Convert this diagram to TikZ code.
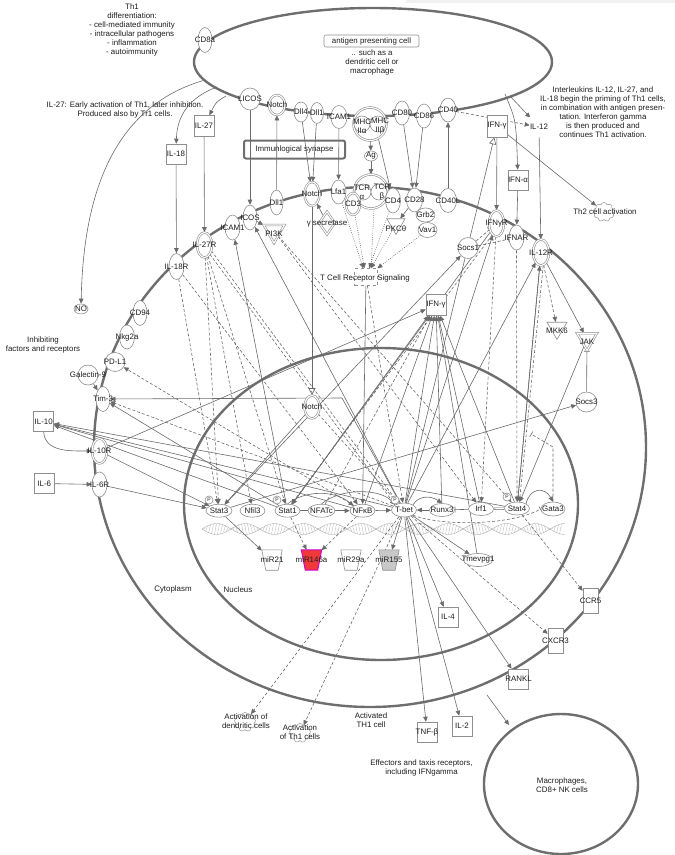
\documentclass[tikz,border=0pt]{standalone}
\usepackage{fontspec}
\setmainfont{Liberation Sans}
\usetikzlibrary{shapes.geometric,shapes.symbols,arrows.meta}
\pgfdeclarelayer{bg}
\pgfsetlayers{bg,main}
\definecolor{ncol}{HTML}{8E8E8E}
\definecolor{ecol}{HTML}{6A6A6A}
\definecolor{mcol}{HTML}{6E6E6E}
\definecolor{mirred}{HTML}{F03A3A}
\definecolor{mirmag}{HTML}{D000D0}
\definecolor{mirgray}{HTML}{C8C8C8}
\definecolor{tcol}{HTML}{1E1E1E}
\newcommand\molnode[4]{\node[#1] (#2) at (#3) {}; \node[lbl] (#2-t) at (#2) {#4};}
\newcommand\mirnode[6]{\node[minimum width=20pt, minimum height=20pt, inner sep=0pt] (#1) at (#2) {};
 \filldraw[fill=#3, draw=#4, line width=#5] (#1.north west) -- (#1.north east) -- ([xshift=-4pt]#1.south east) -- ([xshift=4pt]#1.south west) -- cycle;
 \node[lbl] (#1-t) at (#1) {#6};}
\begin{document}
\begin{tikzpicture}[x=1pt,y=-1pt,
 lbl/.style={font=\fontsize{7.9}{8.6}\selectfont, inner sep=0pt, text=tcol, align=center},
 txt/.style={font=\fontsize{7.9}{9}\selectfont, inner sep=0pt, text=tcol, align=center},
 mol/.style={draw=ncol, fill=white, line width=0.6pt, inner sep=0pt},
 ell/.style={mol, ellipse, minimum width=15pt, minimum height=24pt},
 hel/.style={mol, ellipse, minimum width=25pt, minimum height=13pt},
 del/.style={ell, double=white, double distance=1.1pt},
 box/.style={mol, rectangle, minimum width=20pt, minimum height=21pt},
 vbox/.style={mol, rectangle, minimum width=15pt, minimum height=25pt},
 kin/.style={mol, regular polygon, regular polygon sides=3, shape border rotate=180, minimum size=23pt},
 dkin/.style={kin, double=white, double distance=1.1pt},
 pep/.style={mol, diamond, minimum width=16pt, minimum height=23pt, double=white, double distance=1.1pt},
 func/.style={cloud, cloud puffs=9, draw=ncol, line width=0.5pt, minimum width=21pt, minimum height=19pt, inner sep=0pt},
 cplx/.style={mol, circle, minimum size=33pt, double=white, double distance=1.1pt},
 sub/.style={mol, circle, minimum size=16pt},
 pmark/.style={mol, circle, minimum size=8pt, font=\fontsize{5}{5}\selectfont, text=tcol},
 mem/.style={draw=mcol, line width=2.4pt},
 ar/.style={draw=ecol, line width=0.6pt, -{Triangle[length=5pt,width=4.5pt]}},
 da/.style={ar, dash pattern=on 3pt off 2pt},
 dt/.style={ar, dash pattern=on 0.8pt off 1.4pt},
 inh/.style={draw=ecol, line width=0.6pt, -{Bar[width=6pt]}},
 dinh/.style={inh, dash pattern=on 3pt off 2pt},
 trl/.style={draw=ecol, line width=0.6pt, -{Triangle[open,length=7pt,width=7pt]}},
 ln/.style={draw=ecol, line width=0.6pt},
 hx/.style={draw=ncol!70, line width=0.4pt}
]
\useasboundingbox (0,0) rectangle (675,855);
\fill[gray!12] (406,0) rectangle (675,3);

% ---------- free texts ----------
\node[txt] (tTh1) at (132,29.5) {Th1\\differentiation:\\- cell-mediated immunity\\- intracellular pathogens\\- inflammation\\- autoimmunity};
\node[txt] (tIL27) at (125,109.5) {IL-27: Early activation of Th1, later inhibition.\\Produced also by Tr1 cells.};
\node[txt] (tInt) at (603,112.5) {Interleukins IL-12, IL-27, and\\IL-18 begin the priming of Th1 cells,\\in combination with antigen presen-\\tation. Interferon gamma\\is then produced and\\continues Th1 activation.};
\node[txt] (tInh) at (43,344.5) {Inhibiting\\factors and receptors};
\node[txt] (tCyt) at (173,589) {Cytoplasm};
\node[txt] (tNuc) at (238,590) {Nucleus};
\node[txt] (tAct) at (371,720.5) {Activated\\TH1 cell};
\node[txt] (tEff) at (421.5,767.5) {Effectors and taxis receptors,\\including IFNgamma};
\node[txt] (tSuch) at (372,62) {.. such as a\\dendritic cell or\\macrophage};
\node[draw=ncol, line width=0.6pt, rounded corners=2pt, minimum width=95pt, minimum height=12pt, inner sep=0pt, font=\fontsize{7.9}{9}\selectfont, text=tcol] (apcl) at (371.5,41) {antigen presenting cell};
\node[draw=mcol, line width=2pt, rounded corners=2pt, minimum width=101pt, minimum height=18pt, inner sep=0pt, font=\fontsize{7.9}{9}\selectfont, text=tcol] (isyn) at (294.5,149.5) {Immunlogical synapse};

% macrophage cell
\draw[mem] (561,784) ellipse [x radius=77pt, y radius=70pt];
\node[txt] (tMac) at (562,785.5) {Macrophages,\\CD8+ NK cells};

% ---------- APC membrane ----------
\molnode{ell, minimum width=14pt, minimum height=25pt}{cd8a}{205,40}{CD8a}
\molnode{ell, minimum width=20pt, minimum height=22pt}{licos}{250,99}{LICOS}
\molnode{del, minimum width=16pt, minimum height=20pt}{notchA}{277,105}{Notch}
\molnode{ell, minimum width=14pt, minimum height=20pt}{dll4}{301,112}{Dll4}
\molnode{ell, minimum width=13pt, minimum height=21pt}{dllA}{317,113}{Dll1}
\molnode{ell, minimum width=16pt, minimum height=23pt}{icamA}{339,117}{ICAM1}
\node[cplx] (mhc) at (370,124) {};
\node[sub] (mhca) at (362,124) {};
\node[sub] (mhcb) at (378,124) {};
\node[lbl] (mhcat) at (362,126) {MHC\\IIα};
\node[lbl] (mhcbt) at (380,126) {MHC\\IIβ};
\molnode{ell, minimum width=13pt, minimum height=10pt}{ag}{371,156}{Ag}
\molnode{ell}{cd80}{402,113}{CD80}
\molnode{ell}{cd86}{424,116}{CD86}
\molnode{ell, minimum width=16pt}{cd40}{448,110}{CD40}

% ---------- extracellular ----------
\molnode{box}{il27}{204,126}{IL-27}
\molnode{box, minimum height=20pt}{il18}{176,154}{IL-18}
\molnode{box, minimum height=22pt}{ifngA}{497,126}{IFN-γ}
\molnode{box, double=white, double distance=1.4pt, minimum width=18pt, minimum height=18pt}{il12}{539,127}{IL-12}
\molnode{box, minimum height=20pt}{ifna}{518,180}{IFN-α}
\molnode{ell, minimum width=14pt, minimum height=10pt}{no}{81,309}{NO}
\node[func] (th2) at (604,212) {};
\node[lbl] (th2t) at (605,212) {Th2 cell activation};

% ---------- T cell membrane ----------
\molnode{ell, minimum height=26pt}{il18r}{176.5,266.5}{IL-18R}
\molnode{del, minimum height=25pt}{il27r}{204.5,245}{IL-27R}
\molnode{ell, minimum height=25pt}{icamT}{232.5,227.5}{ICAM1}
\node[dkin, minimum size=24pt] (pi3k) at (274,231) {};
\node[lbl] (pi3kt) at (274,234) {PI3K};
\molnode{ell, minimum width=14pt, minimum height=25pt}{icos}{250,217.5}{ICOS}
\molnode{ell, minimum width=13pt, minimum height=25pt}{dllT}{276.5,202.5}{Dll1}
\molnode{del, minimum width=15pt, minimum height=24pt}{notchT}{312,194}{Notch}
\node[pep] (gsec) at (327,223) {};
\node[lbl] (gsect) at (327,224) {γ secretase};
\molnode{ell}{lfa1}{338.5,192}{Lfa1}
\node[cplx, minimum size=34pt] (tcr) at (371,191.5) {};
\node[sub] (tcra) at (363,192) {};
\node[sub] (tcrb) at (379,192) {};
\node[lbl] (tcrat) at (362,192) {TCR\\α};
\node[lbl] (tcrbt) at (382,192) {TCR\\β};
\molnode{del, minimum width=14pt, minimum height=22pt}{cd3}{353,204}{CD3}
\molnode{ell, minimum width=15pt, minimum height=25pt}{cd4}{393,200.5}{CD4}
\molnode{ell, minimum width=16pt, minimum height=24pt}{cd28}{414.5,200}{CD28}
\node[kin, minimum size=21pt] (pkct) at (396,224) {};
\node[lbl] (pkctt) at (396,229) {PKCθ};
\molnode{ell, minimum width=19pt, minimum height=14pt}{grb2}{425.5,215}{Grb2}
\molnode{ell, minimum width=19pt, minimum height=15pt}{vav1}{427.5,230}{Vav1}
\molnode{ell, minimum width=17pt, minimum height=24pt}{cd40l}{448,200.5}{CD40L}
\molnode{ell, minimum width=20pt, minimum height=21pt}{socs1}{468,248}{Socs1}
\molnode{del, minimum width=15pt, minimum height=26pt}{ifngr}{496.5,223.5}{IFNγR}
\molnode{ell, minimum width=15pt, minimum height=25pt}{ifnar}{516.5,237.5}{IFNAR}
\molnode{del, minimum width=16pt, minimum height=26pt}{il12r}{541,252.5}{IL-12R}
\node[draw=ncol, dashed, line width=0.5pt, minimum width=23pt, minimum height=17pt, inner sep=0pt] (tcrs) at (366,277) {};
\node[lbl] (tcrst) at (365,278) {T Cell Receptor Signaling};
\molnode{box, minimum height=21pt}{ifngT}{436,305}{IFN-γ}

% left membrane
\molnode{ell, minimum width=14pt, minimum height=25pt}{cd94}{140,313}{CD94}
\molnode{ell, minimum width=15pt, minimum height=24pt}{nkg2a}{127,337}{Nkg2a}
\molnode{ell, minimum width=20pt, minimum height=19pt}{pdl1}{115,362}{PD-L1}
\molnode{ell, minimum width=20pt, minimum height=20pt}{gal9}{88,375}{Galectin-9}
\molnode{ell, minimum width=14pt, minimum height=25pt}{tim3}{103,399}{Tim-3}
\molnode{box, minimum height=20pt}{il10}{43.7,421.7}{IL-10}
\molnode{del, minimum width=15pt, minimum height=25pt}{il10r}{99.5,451}{IL-10R}
\molnode{box, minimum height=20pt}{il6}{44.3,483.5}{IL-6}
\molnode{ell, minimum width=15pt, minimum height=25pt}{il6r}{99.5,484.5}{IL-6R}

% right cytoplasm
\node[kin, minimum size=23pt] (mkk6) at (557,328) {};
\node[lbl] (mkk6t) at (557,331) {MKK6};
\node[dkin, minimum size=23pt] (jak) at (587,339) {};
\node[lbl] (jakt) at (587,342) {JAK};
\molnode{ell, minimum width=21pt, minimum height=20pt}{socs3}{586.5,402}{Socs3}

% nucleus
\molnode{del, minimum width=15pt, minimum height=23pt}{notchN}{312,407}{Notch}
\molnode{hel, minimum width=26pt}{stat3}{219,510.7}{Stat3}
\molnode{hel}{nfil3}{252.5,510.7}{Nfil3}
\molnode{hel}{stat1}{287.5,510.7}{Stat1}
\molnode{hel, minimum width=27pt}{nfatc}{321.5,510.7}{NFATc}
\molnode{hel}{nfkb}{362.5,510.7}{NFκB}
\molnode{hel, minimum height=14pt}{tbet}{404,510}{T-bet}
\molnode{hel}{runx3}{442,510}{Runx3}
\molnode{hel}{irf1}{481,509}{Irf1}
\molnode{hel}{stat4}{517,508.5}{Stat4}
\molnode{hel, minimum width=24pt, minimum height=14pt}{gata3}{553,509}{Gata3}
\node[pmark] (p1) at (209,500) {P};
\node[pmark] (p2) at (277,500) {P};
\node[pmark] (p3) at (395,500) {P};
\node[pmark] (p4) at (507,497) {P};
\mirnode{mir21}{272,560}{white}{ncol}{0.6pt}{miR21}
\mirnode{mir146a}{311.5,560}{mirred}{mirmag}{1pt}{miR146a}
\mirnode{mir29a}{351,560}{white}{ncol}{0.6pt}{miR29a}
\mirnode{mir155}{389,560}{mirgray}{ncol}{0.6pt}{miR155}
\molnode{ell, minimum width=29pt, minimum height=13pt}{tmev}{478,560}{Tmevpg1}

% effectors
\molnode{box, minimum height=20pt}{il4}{448,617}{IL-4}
\molnode{box, minimum height=20pt}{tnfb}{427,732}{TNF-β}
\molnode{box, minimum height=20pt}{il2}{462,726}{IL-2}
\molnode{box, minimum height=20pt}{rankl}{518.5,679}{RANKL}
\molnode{vbox}{cxcr3}{555.5,640.5}{CXCR3}
\molnode{vbox}{ccr5}{590.5,600.5}{CCR5}
\node[func] (actdc) at (245,722) {};
\node[txt] (actdct) at (246,721.5) {Activation of\\dendritic cells};
\node[func] (actth) at (300,733) {};
\node[txt] (actthtt) at (300,732.5) {Activation\\of Th1 cells};

% free coordinates
\coordinate (aNO) at (205,80);
\coordinate (aIL18) at (217,87);
\coordinate (aIL27) at (226,96);
\coordinate (aIL12) at (510,96);
\coordinate (aIFNa) at (505,94);
\coordinate (k1) at (342,398);
\coordinate (g1) at (553,447);
\coordinate (g2) at (531,434);
\coordinate (fa1) at (487,695);
\coordinate (fa2) at (509,725);

\begin{pgfonlayer}{bg}
\draw[mem] (373,62) ellipse [x radius=179pt, y radius=54pt];
\draw[mem] (370,447) ellipse [x radius=276pt, y radius=260pt];
\draw[mem] (381,504) ellipse [x radius=197pt, y radius=156pt];
% DNA helix
\draw[hx] plot[domain=202:565, samples=180] (\x, {529+5.5*sin(((\x-202)/58)*360)});
\draw[hx] plot[domain=202:565, samples=180] (\x, {529-5.5*sin(((\x-202)/58)*360)});
\foreach \i in {0,...,119} {
  \pgfmathsetmacro\xx{203.5+3*\i}
  \pgfmathsetmacro\yy{5.5*sin(((\xx-202)/58)*360)}
  \draw[hx, line width=0.3pt] (\xx-1,{529+(\yy)}) -- (\xx+1,{529-(\yy)});
}
% APC side
\draw[ar] (aNO) .. controls (135,100) and (84,160) .. (no);
\draw[ar] (aIL18) .. controls (190,97) and (177,115) .. (il18);
\draw[ar] (aIL27) .. controls (216,102) .. (il27);
\draw[ar] (il27) -- (il27r);
\draw[ar] (il18) -- (il18r);
\draw[ar] (licos) -- (icos);
\draw[ar] (dllT) -- (notchA);
\draw[ar] (dll4) -- (notchT);
\draw[ar] (dllA) -- (notchT);
\draw[ar] (icamA) -- (lfa1);
\draw[ar] (mhc) -- (ag);
\draw[ar] (ag) -- (tcr);
\draw[ar] (mhc.-60) -- (cd4);
\draw[ar] (cd80) -- (cd28);
\draw[ar] (cd86) -- (cd28);
\draw[ar] (cd40l) -- (cd40);
\draw[da] (cd40) -- (il12);
\draw[ar] (aIL12) -- (il12);
\draw[ar] (aIFNa) .. controls (516,120) .. (ifna);
\draw[ar] (ifngA) -- (ifngr);
\draw[ar] (ifna) -- (ifnar);
\draw[ar] (il12) -- (il12r);
\draw[ar] (ifngA) -- (th2);
\draw[trl] (tbet) -- (ifngA);
% T membrane
\draw[ar] (icos) -- (pi3k);
\draw[ar] (gsec) -- (notchT);
\draw[ar] (cd28) -- (pkct);
\draw[dt] (lfa1) -- (tcrs);
\draw[dt] (cd3) -- (tcrs);
\draw[dt] (tcr.-80) -- (tcrs.60);
\draw[dt] (cd4) -- (tcrs);
\draw[dt] (pkct) -- (tcrs);
\draw[dt] (vav1) -- (tcrs);
\draw[ar] (tcrs) -- (nfkb);
\draw[da] (tcrs) -- (tbet);
\draw[trl] (notchT) -- (notchN);
% into nucleus
\draw[da] (notchN) -- (tbet);
\draw[ar] (notchN) -- (stat3);
\draw[da] (il18r) -- (nfkb);
\draw[da] (il18r) -- (stat3);
\draw[da] (il27r) -- (stat3);
\draw[da] (il27r) -- (nfil3);
\draw[da] (il27r) -- (stat1);
\draw[da] (il27r.-60) -- (tbet.150);
\draw[da] (il27r.-40) -- (tbet.130);
\draw[ar] (stat1) -- (icamT);
\draw[ar] (tbet) -- (icos);
\draw[da] (pi3k) -- (irf1);
\draw[da] (pi3k) -- (stat4);
\draw[ar] (ifngr) -- (stat1);
\draw[da] (ifngr.-110) -- (stat1.60);
\draw[da] (ifngr) -- (irf1);
\draw[da] (ifnar) -- (stat4);
\draw[ar] (il12r) -- (stat4);
\draw[da] (il12r.-80) -- (stat4.70);
\draw[da] (il12r) -- (mkk6);
\draw[ar] (il12r) -- (jak);
\draw[ar] (jak) -- (stat4);
\draw[inh] (socs3) -- (jak);
\draw[dinh] (socs1) -- (ifngr);
\draw[dinh] (socs1) -- (ifnar);
\draw[ar] (stat3) -- (socs1);
\draw[ar] (stat3) -- (socs3);
\draw[ar] (tbet) -- (ifngT);
\draw[ar] (stat4) -- (ifngT);
\draw[ar] (runx3) -- (ifngT);
\draw[ar] (irf1) -- (ifngT);
\draw[ar] (stat1) -- (ifngT);
\draw[da] (nfatc) -- (ifngT);
\draw[ar] (il10r) -- (ifngT);
\draw[ar] (nfkb) -- (ifngT);
\draw[ln] (ifngT) -- (tmev);
\draw[ar] (tbet) -- (il12r);
\draw[ar] (stat4) -- (il12r);
\draw[ar] (tbet) -- (ifngr);
\draw[ar] (tbet) -- (k1) -- (tim3);
\draw[da] (tbet) -- (tim3);
\draw[ar] (stat1) -- (tim3);
\draw[da] (nfkb) -- (pdl1);
\draw[ar] (gal9) -- (tim3);
\draw[ar] (il10.south) .. controls (45,452) and (70,451) .. (il10r);
\draw[ar] (il6) -- (il6r);
\draw[ar] (il10r) -- (stat3);
\draw[ar] (il6r) -- (stat3);
\draw[ar] (tbet) -- (il10);
\draw[ar] (nfkb) -- (il10);
\draw[ar] (stat1) -- (il10);
\draw[ar] (stat4) -- (il10);
\draw[ar] (stat3) -- (mir21);
\draw[da] (nfkb) -- (mir146a);
\draw[da] (stat1) -- (mir146a);
% nucleus row
\draw[ln] (stat1) -- (nfatc);
\draw[ar] (nfatc) -- (nfkb);
\draw[ar] (nfkb) -- (tbet);
\draw[ar] (nfatc.north) .. controls (340,488) and (380,488) .. (tbet.north west);
\draw[ar] (stat1.north) .. controls (305,490) and (335,490) .. (nfkb.north west);
\draw[ar] (runx3) -- (tbet);
\draw[ar] (tbet.north east) .. controls (418,496) and (430,495) .. (runx3.north);
\draw[inh] (irf1) -- (runx3);
\draw[ln, double, double distance=1.1pt] (irf1) -- (stat4);
\draw[dinh] (tbet.south east) .. controls (440,526) and (510,526) .. (gata3.west);
\draw[ar] (stat4.north east) .. controls (530,487) and (545,487) .. (gata3.north);
\draw[dinh] (gata3) -- (g1) -- (g2);
% outputs
\draw[ar] (tbet) -- (il4);
\draw[ar] (tbet) -- (tnfb);
\draw[ar] (tbet) -- (il2);
\draw[ar] (tbet) -- (rankl);
\draw[da] (tbet) -- (cxcr3);
\draw[da] (stat4) -- (ccr5);
\draw[ar] (tbet) -- (tmev);
\draw[ar] (tbet) -- (mir155);
\draw[da] (tbet) -- (actdc);
\draw[da] (tbet) -- (actth);
\draw[ar] (fa1) -- (fa2);
\end{pgfonlayer}
\end{tikzpicture}
\end{document}
